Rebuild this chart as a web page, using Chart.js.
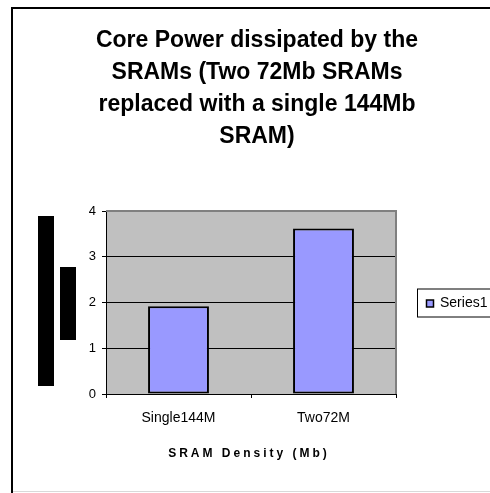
<!DOCTYPE html>
<html>
<head>
<meta charset="utf-8">
<script src="https://cdn.jsdelivr.net/npm/chart.js@4/dist/chart.umd.min.js"></script>
<style>
    html, body { margin: 0; padding: 0; background: #fff; overflow: hidden; }
    #wrap { width: 490px; height: 493px; position: relative; }
</style>
</head>
<body>
<div id="wrap"><canvas id="powerChart"></canvas></div>
<script>
const categories = ["Single144M", "Two72M"];
const powerValues = [1.92, 3.62];
const seriesName = "Series1";
const yTickValues = [0, 1, 2, 3, 4];
const titleLines = [
    "Core Power dissipated by the",
    "SRAMs (Two 72Mb SRAMs",
    "replaced with a single 144Mb",
    "SRAM)"
];
const xAxisTitle = "SRAM Density (Mb)";

const FONT = "'Liberation Sans', Arial, sans-serif";
const BAR_FILL = "#9999FF";
const PLOT_BG = "#C0C0C0";

/** plot background + outer frame **/
const backdrop = {
    id: 'backdrop',
    beforeDraw(chart) {
        const {ctx, chartArea: a} = chart;
        ctx.save();
        ctx.fillStyle = PLOT_BG;
        ctx.fillRect(a.left, a.top, a.right - a.left, a.bottom - a.top);

        // outer chart frame (right edge runs off the picture)
        ctx.strokeStyle = '#000';
        ctx.lineWidth = 2;
        ctx.beginPath();
        ctx.moveTo(12, 500);
        ctx.lineTo(12, 8);
        ctx.lineTo(500, 8);
        ctx.stroke();
        ctx.strokeStyle = '#d9d9d9';
        ctx.lineWidth = 1;
        ctx.beginPath();
        ctx.moveTo(13, 491.5);
        ctx.lineTo(490, 491.5);
        ctx.stroke();
        ctx.restore();
    }
};

/** extras: plot border, axis title, framed legend, y title blocks **/
const extras = {
    id: 'extras',
    afterDraw(chart) {
        const {ctx, chartArea: a} = chart;
        const ds = chart.data.datasets[0];
        ctx.save();

        // grey plot border on top / right
        ctx.strokeStyle = '#808080';
        ctx.lineWidth = 2;
        ctx.beginPath();
        ctx.moveTo(a.left, a.top);
        ctx.lineTo(a.right, a.top);
        ctx.lineTo(a.right, a.bottom);
        ctx.stroke();

        // x axis title, spaced out
        ctx.fillStyle = '#000';
        ctx.font = `bold 12px ${FONT}`;
        ctx.letterSpacing = '3px';
        ctx.textAlign = 'center';
        ctx.textBaseline = 'alphabetic';
        ctx.fillText(xAxisTitle, (a.left + a.right) / 2 - 2, a.bottom + 63);
        ctx.letterSpacing = '0px';

        // legend box
        const midY = (a.top + a.bottom) / 2;
        const lx = a.right + 21;
        ctx.strokeStyle = '#000';
        ctx.lineWidth = 1;
        ctx.strokeRect(lx + 0.5, midY - 13.5, 100, 28);
        ctx.fillStyle = ds.backgroundColor;
        ctx.fillRect(lx + 9.5, midY - 2.5, 7, 7);
        ctx.lineWidth = 1.5;
        ctx.strokeRect(lx + 9.5, midY - 2.5, 7, 7);
        ctx.fillStyle = '#000';
        ctx.font = `14px ${FONT}`;
        ctx.textAlign = 'left';
        ctx.textBaseline = 'middle';
        ctx.fillText(ds.label, lx + 23, midY + 1);

        // value axis title, which came out as solid blocks
        ctx.fillStyle = '#000';
        ctx.fillRect(a.left - 68, a.top + 5, 16, 170);
        ctx.fillRect(a.left - 46, a.top + 56, 16, 73);
        ctx.restore();
    }
};

new Chart(document.getElementById('powerChart'), {
    type: 'bar',
    data: {
        labels: categories,
        datasets: [{
            label: seriesName,
            data: powerValues,
            backgroundColor: BAR_FILL,
            borderColor: '#000',
            borderWidth: 2,
            borderSkipped: false,
            barPercentage: 0.42,
            categoryPercentage: 1
        }]
    },
    options: {
        responsive: true,
        maintainAspectRatio: false,
        animation: false,
        events: [],
        layout: { padding: { left: 24, right: 0, top: 0, bottom: 0 } },
        plugins: {
            legend: { display: false },
            tooltip: { enabled: false },
            title: {
                display: true,
                text: titleLines,
                color: '#000',
                font: { family: FONT, size: 23, weight: 'bold', lineHeight: 32 / 23 },
                padding: { top: 24.5, bottom: 58.5 }
            }
        },
        scales: {
            x: {
                type: 'category',
                offset: true,
                grid: { offset: true, drawOnChartArea: false, tickLength: 4, color: '#000' },
                border: { color: '#000', width: 1 },
                ticks: { color: '#000', font: { family: FONT, size: 14 }, padding: 12, maxRotation: 0 },
                afterFit: s => { s.height = 99; }
            },
            y: {
                min: yTickValues[0],
                max: yTickValues[yTickValues.length - 1],
                afterBuildTicks: s => { s.ticks = yTickValues.map(v => ({value: v})); },
                grid: {
                    tickLength: 4,
                    color: c => (c.tick && c.tick.value === 4) ? '#808080' : '#000',
                    tickColor: '#000'
                },
                border: { color: '#000', width: 1 },
                ticks: { color: '#000', font: { family: FONT, size: 13 }, padding: 6 },
                afterFit: s => { s.width = 82; }
            },
            spacer: {
                type: 'linear',
                position: 'right',
                display: true,
                grid: { display: false },
                border: { display: false },
                ticks: { display: false },
                afterFit: s => { s.width = 94; }
            }
        }
    },
    plugins: [backdrop, extras]
});
</script>
</body>
</html>
